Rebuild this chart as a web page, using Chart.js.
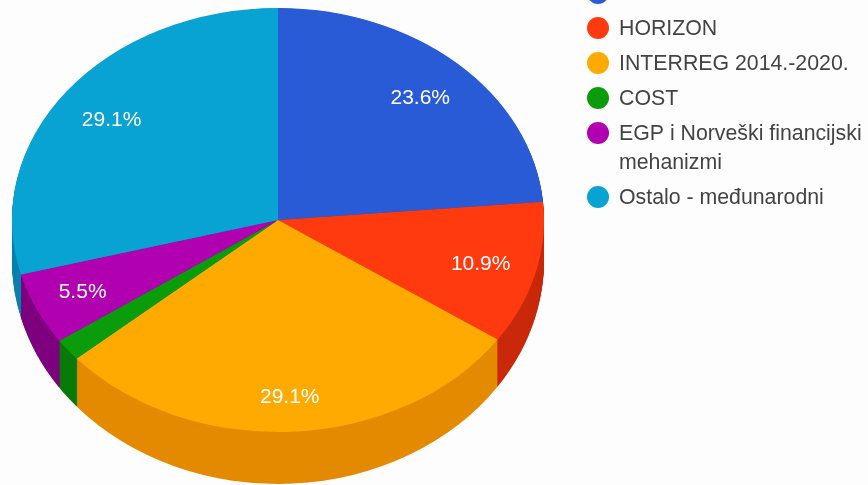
<!DOCTYPE html>
<html>
<head>
<meta charset="utf-8">
<style>
html,body{margin:0;padding:0;background:#fdfdfd;overflow:hidden}
canvas{display:block;filter:blur(0.7px)}
</style>
<script src="https://cdn.jsdelivr.net/npm/chart.js@4"></script>
</head>
<body>
<div style="width:868px;height:485px;position:relative"><canvas id="c" width="868" height="485"></canvas></div>
<script>
const categories = ["ERASMUS+","HORIZON","INTERREG 2014.-2020.","COST","EGP i Norveški financijski mehanizmi","Ostalo - međunarodni"];
const legendLines = [["ERASMUS+"],["HORIZON"],["INTERREG 2014.-2020."],["COST"],["EGP i Norveški financijski","mehanizmi"],["Ostalo - međunarodni"]];
const values = [23.6,10.9,29.1,1.7,5.5,29.1];
const topColors = ["#2a5bd7","#ff3a0e","#ffaa00","#0a9c0a","#b000b0","#08a3d2"];
const sideColors = ["#1c3f98","#c9290a","#e48a00","#087a08","#7e007e","#0883ad"];

const xStretch = 266/212, labelRadius = 0.78;
const layers = 48, depthShift = 40.5, depthGrow = 0.054;
const labelNudges = [[2,0],[2,2],[0,12],[0,0],[-7,3],[-2,1]];
const labelFont = '21px "Liberation Sans", Arial, sans-serif';
const legendFont = '21.3px "Liberation Sans", Arial, sans-serif';

function stretch(ctx, chart){
  const a = chart.getDatasetMeta(0).data[0];
  ctx.translate(a.x,0); ctx.scale(xStretch,1); ctx.translate(-a.x,0);
}
const pie3d = {
  id:'pie3d',
  beforeDatasetsDraw(chart){
    const ctx = chart.ctx, arcs = chart.getDatasetMeta(0).data;
    const cy = arcs[0].y;
    ctx.save();
    stretch(ctx, chart);
    for(let d=layers;d>=1;d--){
      const f = d/layers;
      ctx.save();
      ctx.translate(0,cy+depthShift*f);
      ctx.scale(1,1+depthGrow*f);
      ctx.translate(0,-cy);
      arcs.forEach((arc,i)=>{
        const o = arc.options;
        arc.options = Object.assign({},o,{backgroundColor:sideColors[i],borderColor:sideColors[i],borderWidth:0});
        arc.draw(ctx);
        arc.options = o;
      });
      ctx.restore();
    }
  },
  afterDatasetsDraw(chart){
    const ctx = chart.ctx, arcs = chart.getDatasetMeta(0).data;
    ctx.restore();
    ctx.save();
    ctx.font = labelFont; ctx.fillStyle = '#fff';
    ctx.textAlign='center'; ctx.textBaseline='middle';
    arcs.forEach((arc,i)=>{
      if(values[i] < 3) return;
      const mid = (arc.startAngle+arc.endAngle)/2, r = arc.outerRadius*labelRadius;
      ctx.fillText(values[i].toFixed(1)+'%',
        arc.x+Math.cos(mid)*r*xStretch+labelNudges[i][0],
        arc.y+Math.sin(mid)*r+labelNudges[i][1]);
    });
    ctx.restore();
  },
  afterDraw(chart){
    const ctx = chart.ctx;
    let y = -7;
    ctx.save();
    ctx.font = legendFont; ctx.textAlign='left'; ctx.textBaseline='middle';
    legendLines.forEach((lines,i)=>{
      ctx.fillStyle = topColors[i];
      ctx.beginPath(); ctx.arc(598,y,11,0,Math.PI*2); ctx.fill();
      ctx.fillStyle = '#444';
      lines.forEach((t,j)=>ctx.fillText(t,619,y+1+j*29));
      y += 35 + (lines.length-1)*29;
    });
    ctx.restore();
  }
};
new Chart(document.getElementById('c'),{
  type:'pie',
  data:{labels:categories,datasets:[{data:values,backgroundColor:topColors,borderWidth:0,clip:false}]},
  options:{
    responsive:false,animation:false,
    layout:{padding:{left:66,right:378,top:8,bottom:53}},
    plugins:{legend:{display:false},tooltip:{enabled:false}}
  },
  plugins:[pie3d]
});
</script>
</body>
</html>
